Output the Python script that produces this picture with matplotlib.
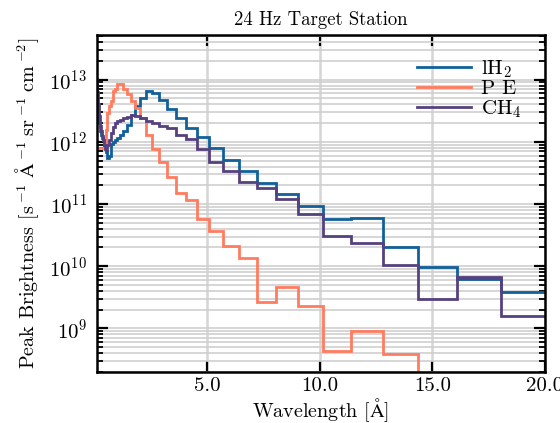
import numpy as np
import matplotlib
matplotlib.use("Agg")
import matplotlib.pyplot as plt
from matplotlib.ticker import LogLocator, FormatStrFormatter, NullFormatter

plt.rcParams['font.family'] = ['cmr10', 'DejaVu Serif']
plt.rcParams['mathtext.fontset'] = 'cm'
plt.rcParams['axes.formatter.use_mathtext'] = True

# wavelength bin edges [Angstrom]
edges = [0.1016, 0.1140, 0.1279, 0.1435, 0.1610, 0.1807, 0.2027, 0.2275, 0.2552, 0.2864,
         0.3213, 0.3605, 0.4045, 0.4539, 0.5093, 0.5714, 0.6411, 0.7194, 0.8071, 0.9056,
         1.016, 1.140, 1.279, 1.435, 1.610, 1.807, 2.027, 2.275, 2.552, 2.864,
         3.213, 3.605, 4.045, 4.539, 5.093, 5.714, 6.411, 7.194, 8.071, 9.056,
         10.16, 11.40, 12.79, 14.35, 16.10, 18.07, 20.27]

lh2 = [5.8e12, 4.8e12, 4.0e12, 3.3e12, 2.7e12, 2.3e12, 2.0e12, 1.74e12, 1.5e12, 1.3e12,
       1.17e12, 1.05e12, 8.9e11, 8.1e11, 6.9e11, 5.5e11, 5.9e11, 9.3e11, 1.0e12, 1.07e12,
       1.17e12, 1.3e12, 1.48e12, 1.86e12, 2.72e12, 3.8e12, 5.05e12, 6.6e12, 6.1e12, 4.7e12,
       3.36e12, 2.4e12, 1.66e12, 1.19e12, 7.9e11, 5.1e11, 3.4e11, 2.2e11, 1.47e11, 9.4e10,
       5.8e10, 5.9e10, 2.0e10, 9.8e9, 6.3e9, 3.9e9]

pe = [8e11, 8e11, 8e11, 8e11, 8e11, 8e11, 8e11, 8e11, 8e11, 8e11,
      8e11, 8e11, 8e11, 8e11, 1.55e12, 2.9e12, 3.7e12, 4.5e12, 6.5e12, 7.2e12,
      8.5e12, 8.5e12, 7.1e12, 5.9e12, 4.6e12, 3.5e12, 2.44e12, 1.28e12, 7.8e11, 4.8e11,
      2.7e11, 1.5e11, 1.16e11, 5.7e10, 3.7e10, 2.1e10, 1.33e10, 2.7e9, 4.6e9, 2.3e9,
      4.3e8, 9.1e8, 3.9e8, 1e7, 1e7, 1e7]

ch4 = [1.07e13, 8.3e12, 6.3e12, 5.1e12, 4.1e12, 3.3e12, 2.6e12, 2.2e12, 1.8e12, 1.5e12,
       1.26e12, 1.05e12, 8.9e11, 7.8e11, 7.4e11, 8.9e11, 1.07e12, 1.41e12, 1.74e12, 2.04e12,
       2.14e12, 2.26e12, 2.4e12, 2.5e12, 2.72e12, 2.63e12, 2.38e12, 2.2e12, 2.0e12, 1.82e12,
       1.68e12, 1.28e12, 1.1e12, 7.7e11, 4.8e11, 3.35e11, 2.23e11, 1.81e11, 1.21e11, 6.9e10,
       3.1e10, 2.4e10, 1.06e10, 3.0e9, 6.8e9, 1.6e9]

fig = plt.figure(figsize=(5.6, 4.23), dpi=100)
ax = fig.add_axes([0.173, 0.121, 0.8, 0.796])

ax.stairs(lh2, edges, baseline=None, color='#11609a', lw=2.0, label=r'l$\mathrm{H}_2$')
ax.stairs(pe, edges, baseline=None, color='#ff7c5e', lw=2.0, label='P E')
ax.stairs(ch4, edges, baseline=None, color='#56417f', lw=2.0, label=r'C$\mathrm{H}_4$')

ax.set_yscale('log')
ax.set_xlim(0.1016, 20)
ax.set_ylim(2e8, 5.2e13)
ax.set_xticks([5, 10, 15, 20])
ax.xaxis.set_major_formatter(FormatStrFormatter('%.1f'))
ax.yaxis.set_major_locator(LogLocator(base=10, numticks=20))
ax.yaxis.set_minor_locator(LogLocator(base=10, subs=np.arange(2, 10), numticks=20))
ax.yaxis.set_minor_formatter(NullFormatter())

ax.set_axisbelow(True)
ax.grid(axis='y', which='both', color='#cfcfcf', lw=1.2)
ax.grid(axis='x', which='major', color='#d5d5d5', lw=1.8)

ax.tick_params(which='both', direction='in', top=True, right=True, labelsize=15)
ax.tick_params(axis='y', pad=7)
ax.tick_params(which='major', length=8, width=1.6)
ax.tick_params(which='minor', length=4, width=1.3)
ax.tick_params(axis='x', which='minor', length=0)
for s in ax.spines.values():
    s.set_linewidth(1.8)

ax.set_title('24 Hz Target Station', fontsize=13.5, pad=7)
ax.set_xlabel(r'Wavelength $[\mathrm{\AA}]$', fontsize=14.5, labelpad=1)
ax.set_ylabel(r'Peak Brightness $[\mathrm{s}\,^{-1}\;\mathrm{\AA}\,^{-1}\;\mathrm{sr}\,^{-1}\;\mathrm{cm}\,^{-2}]$',
              fontsize=14.5, labelpad=6)

ax.legend(loc='upper right', frameon=False, fontsize=15, handlelength=2.6,
          labelspacing=0.0, handletextpad=0.5, borderaxespad=0.7)

fig.savefig('out.png', dpi=100)
